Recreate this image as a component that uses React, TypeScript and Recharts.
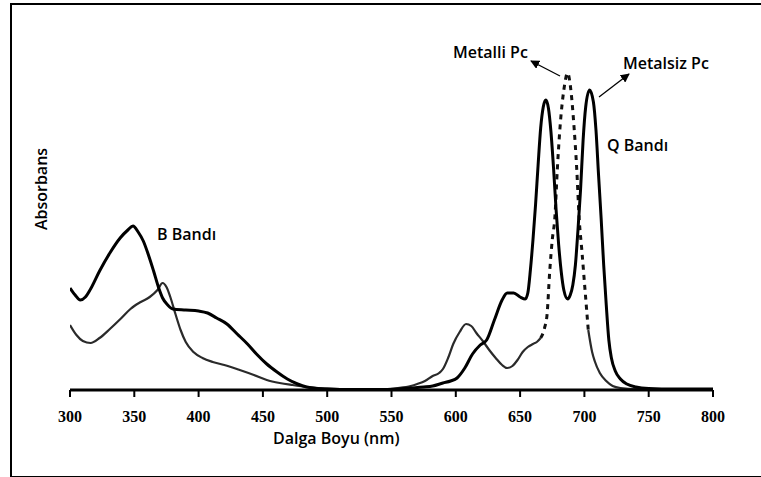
import React from 'react';
import { LineChart, Line, XAxis, YAxis } from 'recharts';

// metal-free Pc (solid, split Q band)
const metalsizNm = [
  300, 304, 308, 312, 316, 323, 331, 339, 345, 349, 353, 357, 361, 365, 369, 372, 376, 380, 390, 400,
  407, 414, 422, 430, 438, 445, 453, 461, 469, 477, 484, 492, 500, 520, 545, 555, 565, 575, 582, 590,
  596, 601, 607, 613, 619, 624, 630, 636, 640, 645, 650, 654, 656, 658, 660, 662, 664, 666, 668, 670,
  672, 674, 676, 678, 680, 682, 684, 687, 689, 691, 693, 695, 697, 699, 701, 704, 707, 709, 711, 713,
  715, 717, 719, 721, 724, 728, 733, 740, 750, 770, 800,
];
const metalsizAbs = [
  1.02, 0.95, 0.9, 0.93, 1.01, 1.19, 1.37, 1.52, 1.6, 1.64, 1.58, 1.49, 1.35, 1.19, 1.02, 0.92, 0.85, 0.81, 0.8, 0.79,
  0.77, 0.72, 0.66, 0.56, 0.46, 0.36, 0.26, 0.18, 0.11, 0.06, 0.03, 0.015, 0.01, 0.005, 0.005, 0.01, 0.02, 0.03, 0.04, 0.07,
  0.09, 0.12, 0.22, 0.36, 0.45, 0.5, 0.7, 0.9, 0.97, 0.97, 0.93, 0.91, 0.97, 1.2, 1.5, 1.85, 2.25, 2.62, 2.83, 2.9,
  2.82, 2.58, 2.22, 1.8, 1.45, 1.18, 1.0, 0.91, 0.95, 1.05, 1.25, 1.6, 2.0, 2.5, 2.83, 3.0, 2.88, 2.6, 2.15, 1.72,
  1.25, 0.85, 0.5, 0.32, 0.19, 0.11, 0.06, 0.03, 0.015, 0.01, 0.01,
];

// metal Pc (dashed around the Q band)
const metalliNm = [
  300, 305, 310, 316, 323, 331, 340, 347, 350, 355, 362, 368, 372, 375, 378, 382, 386, 390, 396, 403,
  411, 420, 432, 443, 453, 463, 473, 485, 500, 520, 545, 555, 565, 570, 576, 582, 587, 590, 594, 598,
  603, 608, 612, 616, 621, 626, 631, 636, 640, 644, 648, 652, 656, 660, 663, 666, 669, 671, 673, 675,
  677, 679, 681, 684, 687, 689, 692, 694, 696, 698, 700, 703, 706, 708, 712, 717, 722, 728, 740, 770,
  800,
];
const metalliAbs = [
  0.65, 0.55, 0.49, 0.47, 0.52, 0.61, 0.72, 0.81, 0.84, 0.88, 0.93, 1.0, 1.07, 1.03, 0.93, 0.76, 0.6, 0.48, 0.38, 0.32,
  0.28, 0.25, 0.2, 0.15, 0.1, 0.07, 0.05, 0.03, 0.015, 0.01, 0.01, 0.02, 0.04, 0.06, 0.09, 0.14, 0.17, 0.21, 0.32, 0.46,
  0.58, 0.66, 0.64, 0.57, 0.49, 0.4, 0.32, 0.25, 0.22, 0.24, 0.3, 0.38, 0.43, 0.46, 0.48, 0.52, 0.62, 0.76, 1.18, 1.5,
  1.72, 2.22, 2.62, 3.0, 3.17, 3.05, 2.62, 2.22, 1.7, 1.4, 1.08, 0.6, 0.38, 0.29, 0.17, 0.09, 0.04, 0.02, 0.01, 0.01,
  0.01,
];

const xTicks = [300, 350, 400, 450, 500, 550, 600, 650, 700, 750, 800];

const metalsizData = metalsizNm.map((nm, i) => ({ nm, abs: metalsizAbs[i] }));
const metalliData = metalliNm.map((nm, i) => ({ nm, abs: metalliAbs[i] }));
const metalliSolidA = metalliData.filter((d) => d.nm <= 666);
const metalliDashed = metalliData.filter((d) => d.nm >= 666 && d.nm <= 703);
const metalliSolidB = metalliData.filter((d) => d.nm >= 703);

const sans = 'Open Sans, Liberation Sans, Arial, sans-serif';

export default function App() {
  return (
    <div style={{ position: 'absolute', left: 0, top: 0, width: 761, height: 477, background: '#fff', overflow: 'hidden' }}>
      <div
        style={{
          position: 'absolute', left: 10, top: 3, width: 770, height: 471,
          borderLeft: '2px solid #000', borderTop: '2px solid #000', borderBottom: '2px solid #000',
        }}
      />
      <div style={{ position: 'absolute', left: 0, top: 0 }}>
        <LineChart width={761} height={477} margin={{ top: 10, right: 48, bottom: 57, left: 70 }}>
          <XAxis
            type="number"
            dataKey="nm"
            domain={[300, 800]}
            ticks={xTicks}
            allowDataOverflow
            axisLine={{ stroke: '#000', strokeWidth: 3 }}
            tickLine={{ stroke: '#000', strokeWidth: 2 }}
            tickSize={7}
            tickMargin={14}
            height={30}
            tick={{ fill: '#000', fontFamily: 'Liberation Serif, Times New Roman, serif', fontWeight: 700, fontSize: 16 }}
          />
          <YAxis
            type="number"
            domain={[0, 3.8]}
            allowDataOverflow
            width={0}
            tick={false}
            tickLine={false}
            axisLine={{ stroke: '#000', strokeWidth: 3 }}
          />
          <Line data={metalliSolidA} dataKey="abs" type="monotone" stroke="#2a2a2a" strokeWidth={2.2} dot={false} isAnimationActive={false} />
          <Line data={metalliDashed} dataKey="abs" type="monotone" stroke="#111" strokeWidth={3} strokeDasharray="5 5" dot={false} isAnimationActive={false} />
          <Line data={metalliSolidB} dataKey="abs" type="monotone" stroke="#2a2a2a" strokeWidth={2.2} dot={false} isAnimationActive={false} />
          <Line data={metalsizData} dataKey="abs" type="monotone" stroke="#000" strokeWidth={3} dot={false} isAnimationActive={false} />
        </LineChart>
      </div>
      <svg width={761} height={477} style={{ position: 'absolute', left: 0, top: 0, pointerEvents: 'none' }}>
        <defs>
          <marker id="head" viewBox="0 0 10 10" refX="9" refY="5" markerWidth="7" markerHeight="7" orient="auto-start-reverse">
            <path d="M0,0 L10,5 L0,10 z" fill="#000" />
          </marker>
        </defs>
        <g fontFamily={sans} fontWeight={600} fill="#000">
          <text x={453} y={58} fontSize={16}>Metalli Pc</text>
          <text x={623} y={69} fontSize={16}>Metalsiz Pc</text>
          <text x={607} y={151} fontSize={16}>Q Bandı</text>
          <text x={157} y={240} fontSize={16}>B Bandı</text>
          <text x={273} y={444} fontSize={16}>Dalga Boyu (nm)</text>
          <text x={47} y={189} fontSize={16} textAnchor="middle" transform="rotate(-90 47 189)">Absorbans</text>
        </g>
        <line x1={560} y1={76} x2={531} y2={61} stroke="#000" strokeWidth={1.3} markerEnd="url(#head)" />
        <line x1={599} y1={97} x2={629} y2={74} stroke="#000" strokeWidth={1.3} markerEnd="url(#head)" />
      </svg>
    </div>
  );
}
